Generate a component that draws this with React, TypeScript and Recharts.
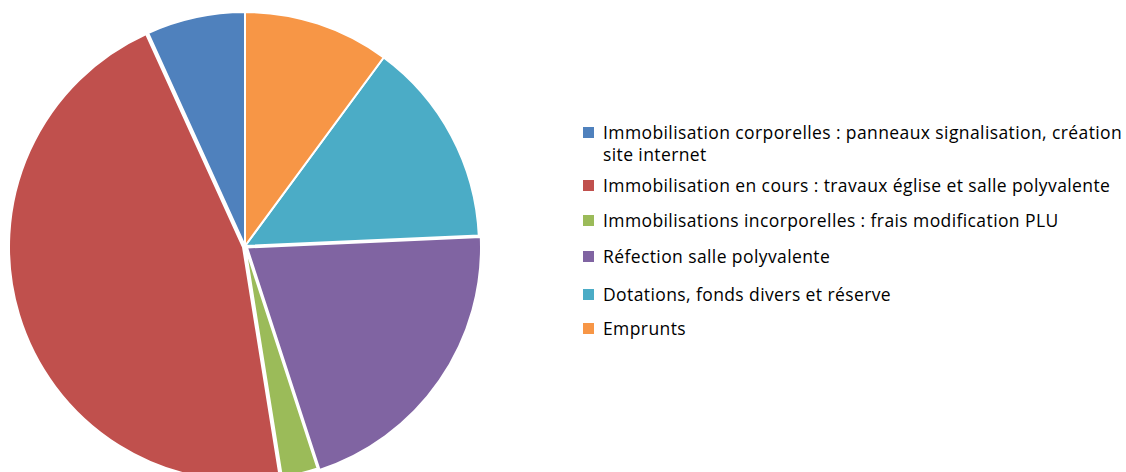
import { PieChart, Pie, Cell, Legend } from "recharts"

// categories and their share of the budget
const categories = [
  "Immobilisation corporelles : panneaux signalisation, création site internet",
  "Immobilisation en cours : travaux église et salle polyvalente",
  "Immobilisations incorporelles : frais modification PLU",
  "Réfection salle polyvalente",
  "Dotations, fonds divers et réserve",
  "Emprunts",
]
const values = [6.8, 45.75, 2.5, 20.7, 14.2, 10.1]
const colors = ["#4F81BD", "#C0504D", "#9BBB59", "#8064A2", "#4BACC6", "#F79646"]
// small explode offsets for the pulled-out slices
const offsets = ["", "translate(-2,1)", "", "translate(2,1.5)", "", ""]
// gap under each legend row (the Excel legend is not perfectly even)
const rowGaps = [9, 13, 14, 16, 12, 0]

const data = categories.map((name, i) => ({ name, value: values[i] }))

const CustomLegend = () => (
  <div style={{ fontFamily: "'Open Sans', sans-serif", fontSize: 17.5, letterSpacing: 0.4, color: "#000", width: 545 }}>
    {categories.map((name, i) => (
      <div
        key={name}
        style={{ display: "flex", alignItems: "flex-start", marginBottom: rowGaps[i], lineHeight: "22px" }}
      >
        <span
          style={{
            display: "inline-block",
            width: 11,
            height: 11,
            background: colors[i],
            marginTop: 6,
            marginRight: 9,
            flexShrink: 0,
          }}
        />
        <span style={{ width: 527 }}>{name}</span>
      </div>
    ))}
  </div>
)

export default function App() {
  return (
    <div>
      <style>{"body{margin:0}"}</style>
      <PieChart width={1126} height={472} margin={{ top: 0, right: 0, bottom: 0, left: 0 }}>
        <Pie
          data={data}
          dataKey="value"
          nameKey="name"
          cx={245}
          cy={246}
          outerRadius={234}
          startAngle={90}
          endAngle={450}
          stroke="#fff"
          strokeWidth={2}
          isAnimationActive={false}
        >
          {data.map((d, i) => (
            <Cell key={d.name} fill={colors[i]} transform={offsets[i]} />
          ))}
        </Pie>
        <Legend
          content={<CustomLegend />}
          wrapperStyle={{ position: "absolute", left: 583, top: 121, width: 543 }}
        />
      </PieChart>
    </div>
  )
}
